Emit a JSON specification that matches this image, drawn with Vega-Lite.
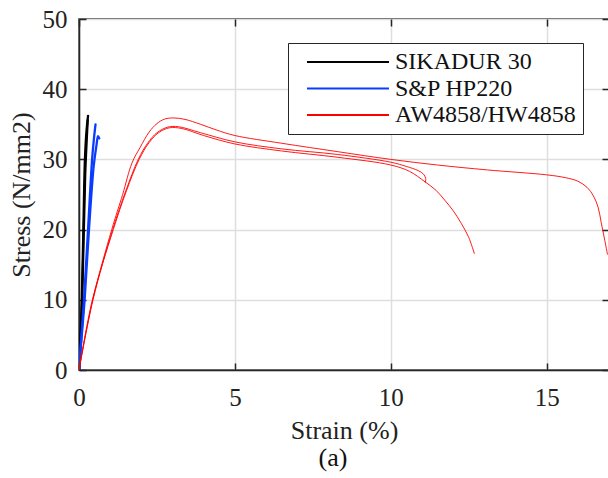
{
  "$schema": "https://vega.github.io/schema/vega-lite/v6.json",
  "width": 530,
  "height": 351,
  "autosize": "none",
  "padding": {"left": 79, "top": 19, "right": 0, "bottom": 108},
  "background": "white",
  "title": {"text": "(a)", "orient": "bottom", "dx": -11, "offset": 2, "font": "Liberation Serif", "fontSize": 26, "fontWeight": "normal", "color": "#111"},
  "config": {
    "view": {"stroke": "#262626", "strokeWidth": 1.5},
    "axis": {
      "labelFont": "Liberation Serif", "titleFont": "Liberation Serif",
      "labelFontSize": 25, "titleFontSize": 26, "titleFontWeight": "normal",
      "labelColor": "#222", "titleColor": "#222",
      "domainColor": "#262626", "domainWidth": 1.5,
      "tickColor": "#262626", "tickWidth": 1.5, "tickSize": -7,
      "gridColor": "#dedede", "gridWidth": 1.5
    }
  },
  "data": {"values": [
    {"s":"SIKADUR 30","c":"K1","i":0,"x":0,"y":0},
    {"s":"SIKADUR 30","c":"K1","i":1,"x":0.05,"y":5},
    {"s":"SIKADUR 30","c":"K1","i":2,"x":0.09,"y":10},
    {"s":"SIKADUR 30","c":"K1","i":3,"x":0.14,"y":20},
    {"s":"SIKADUR 30","c":"K1","i":4,"x":0.19,"y":30},
    {"s":"SIKADUR 30","c":"K1","i":5,"x":0.24,"y":34},
    {"s":"SIKADUR 30","c":"K1","i":6,"x":0.29,"y":36.2},
    {"s":"SIKADUR 30","c":"K2","i":0,"x":0,"y":0},
    {"s":"SIKADUR 30","c":"K2","i":1,"x":0.06,"y":5},
    {"s":"SIKADUR 30","c":"K2","i":2,"x":0.1,"y":10},
    {"s":"SIKADUR 30","c":"K2","i":3,"x":0.155,"y":20},
    {"s":"SIKADUR 30","c":"K2","i":4,"x":0.2,"y":28},
    {"s":"SIKADUR 30","c":"K2","i":5,"x":0.25,"y":33},
    {"s":"SIKADUR 30","c":"K2","i":6,"x":0.28,"y":35.6},
    {"s":"S&P HP220","c":"B1","i":0,"x":0,"y":0},
    {"s":"S&P HP220","c":"B1","i":1,"x":0.08,"y":5},
    {"s":"S&P HP220","c":"B1","i":2,"x":0.16,"y":10},
    {"s":"S&P HP220","c":"B1","i":3,"x":0.29,"y":20},
    {"s":"S&P HP220","c":"B1","i":4,"x":0.42,"y":30},
    {"s":"S&P HP220","c":"B1","i":5,"x":0.48,"y":33},
    {"s":"S&P HP220","c":"B1","i":6,"x":0.53,"y":35.0},
    {"s":"S&P HP220","c":"B2","i":0,"x":0,"y":0},
    {"s":"S&P HP220","c":"B2","i":1,"x":0.09,"y":5},
    {"s":"S&P HP220","c":"B2","i":2,"x":0.18,"y":10},
    {"s":"S&P HP220","c":"B2","i":3,"x":0.32,"y":20},
    {"s":"S&P HP220","c":"B2","i":4,"x":0.47,"y":29},
    {"s":"S&P HP220","c":"B2","i":5,"x":0.56,"y":32},
    {"s":"S&P HP220","c":"B2","i":6,"x":0.61,"y":33.3},
    {"s":"S&P HP220","c":"B2","i":7,"x":0.65,"y":33.0},
    {"s":"AW4858/HW4858","c":"R1","i":0,"x":0,"y":0},
    {"s":"AW4858/HW4858","c":"R1","i":1,"x":0.44,"y":10},
    {"s":"AW4858/HW4858","c":"R1","i":2,"x":1.05,"y":20},
    {"s":"AW4858/HW4858","c":"R1","i":3,"x":1.4,"y":25},
    {"s":"AW4858/HW4858","c":"R1","i":4,"x":1.7,"y":29.5},
    {"s":"AW4858/HW4858","c":"R1","i":5,"x":1.96,"y":31.7},
    {"s":"AW4858/HW4858","c":"R1","i":6,"x":2.25,"y":33.9},
    {"s":"AW4858/HW4858","c":"R1","i":7,"x":2.5,"y":35.1},
    {"s":"AW4858/HW4858","c":"R1","i":8,"x":2.75,"y":35.75},
    {"s":"AW4858/HW4858","c":"R1","i":9,"x":3.05,"y":35.9},
    {"s":"AW4858/HW4858","c":"R1","i":10,"x":3.4,"y":35.7},
    {"s":"AW4858/HW4858","c":"R1","i":11,"x":3.9,"y":35.0},
    {"s":"AW4858/HW4858","c":"R1","i":12,"x":4.4,"y":34.2},
    {"s":"AW4858/HW4858","c":"R1","i":13,"x":5.0,"y":33.4},
    {"s":"AW4858/HW4858","c":"R1","i":14,"x":6.5,"y":32.3},
    {"s":"AW4858/HW4858","c":"R1","i":15,"x":8.3,"y":31.1},
    {"s":"AW4858/HW4858","c":"R1","i":16,"x":10,"y":30.0},
    {"s":"AW4858/HW4858","c":"R1","i":17,"x":11.5,"y":29.2},
    {"s":"AW4858/HW4858","c":"R1","i":18,"x":13.1,"y":28.5},
    {"s":"AW4858/HW4858","c":"R1","i":19,"x":15,"y":27.8},
    {"s":"AW4858/HW4858","c":"R1","i":20,"x":15.6,"y":27.4},
    {"s":"AW4858/HW4858","c":"R1","i":21,"x":16.0,"y":26.9},
    {"s":"AW4858/HW4858","c":"R1","i":22,"x":16.3,"y":26.0},
    {"s":"AW4858/HW4858","c":"R1","i":23,"x":16.5,"y":24.8},
    {"s":"AW4858/HW4858","c":"R1","i":24,"x":16.65,"y":23.2},
    {"s":"AW4858/HW4858","c":"R1","i":25,"x":16.75,"y":21.0},
    {"s":"AW4858/HW4858","c":"R1","i":26,"x":16.85,"y":18.8},
    {"s":"AW4858/HW4858","c":"R1","i":27,"x":16.95,"y":16.5},
    {"s":"AW4858/HW4858","c":"R2","i":0,"x":0,"y":0},
    {"s":"AW4858/HW4858","c":"R2","i":1,"x":0.45,"y":10},
    {"s":"AW4858/HW4858","c":"R2","i":2,"x":1.08,"y":20},
    {"s":"AW4858/HW4858","c":"R2","i":3,"x":1.5,"y":25.5},
    {"s":"AW4858/HW4858","c":"R2","i":4,"x":1.9,"y":30},
    {"s":"AW4858/HW4858","c":"R2","i":5,"x":2.2,"y":32.3},
    {"s":"AW4858/HW4858","c":"R2","i":6,"x":2.5,"y":33.8},
    {"s":"AW4858/HW4858","c":"R2","i":7,"x":2.85,"y":34.6},
    {"s":"AW4858/HW4858","c":"R2","i":8,"x":3.2,"y":34.65},
    {"s":"AW4858/HW4858","c":"R2","i":9,"x":3.9,"y":33.8},
    {"s":"AW4858/HW4858","c":"R2","i":10,"x":5,"y":32.5},
    {"s":"AW4858/HW4858","c":"R2","i":11,"x":6.5,"y":31.5},
    {"s":"AW4858/HW4858","c":"R2","i":12,"x":8.3,"y":30.7},
    {"s":"AW4858/HW4858","c":"R2","i":13,"x":10,"y":29.6},
    {"s":"AW4858/HW4858","c":"R2","i":14,"x":10.5,"y":29.0},
    {"s":"AW4858/HW4858","c":"R2","i":15,"x":10.88,"y":28.4},
    {"s":"AW4858/HW4858","c":"R2","i":16,"x":11.05,"y":27.9},
    {"s":"AW4858/HW4858","c":"R2","i":17,"x":11.12,"y":27.3},
    {"s":"AW4858/HW4858","c":"R2","i":18,"x":11.11,"y":26.7},
    {"s":"AW4858/HW4858","c":"R3","i":0,"x":0,"y":0},
    {"s":"AW4858/HW4858","c":"R3","i":1,"x":0.43,"y":10},
    {"s":"AW4858/HW4858","c":"R3","i":2,"x":1.1,"y":20},
    {"s":"AW4858/HW4858","c":"R3","i":3,"x":1.52,"y":25.5},
    {"s":"AW4858/HW4858","c":"R3","i":4,"x":1.93,"y":30},
    {"s":"AW4858/HW4858","c":"R3","i":5,"x":2.25,"y":32.4},
    {"s":"AW4858/HW4858","c":"R3","i":6,"x":2.55,"y":33.8},
    {"s":"AW4858/HW4858","c":"R3","i":7,"x":2.9,"y":34.5},
    {"s":"AW4858/HW4858","c":"R3","i":8,"x":3.3,"y":34.4},
    {"s":"AW4858/HW4858","c":"R3","i":9,"x":4,"y":33.4},
    {"s":"AW4858/HW4858","c":"R3","i":10,"x":5,"y":32.2},
    {"s":"AW4858/HW4858","c":"R3","i":11,"x":6.5,"y":31.2},
    {"s":"AW4858/HW4858","c":"R3","i":12,"x":8.3,"y":30.3},
    {"s":"AW4858/HW4858","c":"R3","i":13,"x":10,"y":29.2},
    {"s":"AW4858/HW4858","c":"R3","i":14,"x":10.6,"y":28.3},
    {"s":"AW4858/HW4858","c":"R3","i":15,"x":11.1,"y":26.8},
    {"s":"AW4858/HW4858","c":"R3","i":16,"x":11.45,"y":25.6},
    {"s":"AW4858/HW4858","c":"R3","i":17,"x":11.73,"y":24.2},
    {"s":"AW4858/HW4858","c":"R3","i":18,"x":12.0,"y":22.7},
    {"s":"AW4858/HW4858","c":"R3","i":19,"x":12.26,"y":20.9},
    {"s":"AW4858/HW4858","c":"R3","i":20,"x":12.5,"y":18.9},
    {"s":"AW4858/HW4858","c":"R3","i":21,"x":12.68,"y":16.6}
  ]},
  "layer": [
    {
      "transform": [{"filter": "datum.s !== 'AW4858/HW4858'"}],
      "mark": {"type": "line", "clip": true, "strokeJoin": "round", "strokeCap": "round", "strokeWidth": 2.3, "interpolate": "catmull-rom"},
      "encoding": {
        "x": {"field": "x", "type": "quantitative",
              "scale": {"domain": [0, 17], "nice": false, "zero": false},
              "axis": {"orient": "bottom", "values": [0, 5, 10, 15], "title": "Strain (%)", "labelPadding": 22, "titleBaseline": "middle", "titleX": 265, "titleY": 60, "labelFlush": false}},
        "y": {"field": "y", "type": "quantitative",
              "scale": {"domain": [0, 50], "nice": false},
              "axis": {"orient": "left", "values": [0, 10, 20, 30, 40, 50], "title": "Stress (N/mm2)", "labelPadding": 19, "titleBaseline": "middle", "titleX": -58, "titleY": 175.5, "titleAngle": -90, "labelFlush": false}},
        "color": {"field": "s", "type": "nominal",
                  "scale": {"domain": ["SIKADUR 30", "S&P HP220", "AW4858/HW4858"], "range": ["#000000", "#0a3cff", "#ff0000"]},
                  "legend": {"title": null, "orient": "none", "legendX": 209, "legendY": 24,
                             "strokeColor": "#262626", "fillColor": "white", "padding": 7,
                             "labelFont": "Liberation Serif", "labelFontSize": 24, "labelColor": "#111",
                             "symbolType": "M-4,0H4", "symbolSize": 420, "symbolStrokeWidth": 2.2,
                             "symbolOffset": 41, "labelOffset": 35, "rowPadding": 2.5, "labelLimit": 400}},
        "detail": {"field": "c"},
        "order": {"field": "i", "type": "quantitative"}
      }
    },
    {
      "transform": [{"filter": "datum.s === 'AW4858/HW4858'"}],
      "mark": {"type": "line", "clip": true, "strokeJoin": "round", "strokeCap": "round", "strokeWidth": 0.9, "interpolate": "catmull-rom"},
      "encoding": {
        "x": {"field": "x", "type": "quantitative", "axis": null},
        "y": {"field": "y", "type": "quantitative", "axis": null},
        "color": {"field": "s", "type": "nominal"},
        "detail": {"field": "c"},
        "order": {"field": "i", "type": "quantitative"}
      }
    },
    {
      "mark": {"type": "line", "strokeOpacity": 0},
      "encoding": {
        "x": {"field": "x", "type": "quantitative",
              "axis": {"orient": "top", "values": [0, 5, 10, 15], "labels": false, "title": null, "grid": false, "domain": false}},
        "y": {"field": "y", "type": "quantitative",
              "axis": {"orient": "right", "values": [0, 10, 20, 30, 40, 50], "labels": false, "title": null, "grid": false, "domain": false}},
        "detail": {"field": "c"},
        "order": {"field": "i", "type": "quantitative"}
      }
    }
  ],
  "resolve": {"axis": {"x": "independent", "y": "independent"}}
}
